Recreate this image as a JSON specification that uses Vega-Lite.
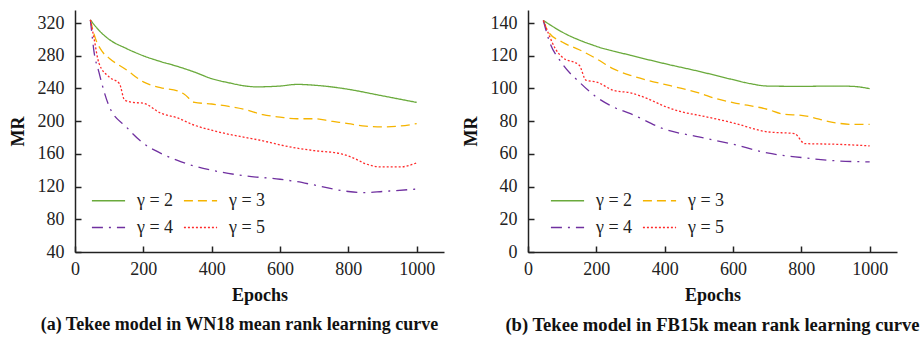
{
  "$schema": "https://vega.github.io/schema/vega-lite/v6.json",
  "padding": {"left": 9, "top": 10, "right": 5, "bottom": 5},
  "spacing": 84,
  "bounds": "flush",
  "config": {
    "font": "Liberation Serif",
    "view": {"stroke": null},
    "axis": {
      "labelFont": "Liberation Serif", "labelFontSize": 18, "labelColor": "#222",
      "titleFont": "Liberation Serif", "titleFontSize": 18, "titleFontWeight": "bold", "titleColor": "#111",
      "domainColor": "#222", "domainWidth": 1.5, "tickColor": "#222", "tickWidth": 1.5,
      "tickSize": -6, "grid": false
    },
    "legend": {
      "labelFont": "Liberation Serif", "labelFontSize": 18, "labelColor": "#222",
      "symbolType": "stroke", "symbolSize": 1100, "symbolStrokeWidth": 1.5,
      "columns": 2, "direction": "horizontal", "columnPadding": 6, "rowPadding": -5, "labelOffset": 11,
      "orient": "none", "title": null
    },
    "title": {"font": "Liberation Serif", "fontSize": 18, "fontWeight": "bold", "color": "#111", "orient": "bottom", "offset": 12, "frame": "group"}
  },
  "datasets": {
    "curves": [
      {"panel":"a","gamma":"γ = 2","epoch":45,"mr":324},{"panel":"a","gamma":"γ = 2","epoch":60,"mr":316},{"panel":"a","gamma":"γ = 2","epoch":80,"mr":307},{"panel":"a","gamma":"γ = 2","epoch":100,"mr":300},{"panel":"a","gamma":"γ = 2","epoch":150,"mr":289},{"panel":"a","gamma":"γ = 2","epoch":200,"mr":280},{"panel":"a","gamma":"γ = 2","epoch":250,"mr":273},{"panel":"a","gamma":"γ = 2","epoch":300,"mr":267},{"panel":"a","gamma":"γ = 2","epoch":350,"mr":260},{"panel":"a","gamma":"γ = 2","epoch":400,"mr":252},{"panel":"a","gamma":"γ = 2","epoch":450,"mr":247},{"panel":"a","gamma":"γ = 2","epoch":500,"mr":243},{"panel":"a","gamma":"γ = 2","epoch":530,"mr":242},{"panel":"a","gamma":"γ = 2","epoch":600,"mr":243},{"panel":"a","gamma":"γ = 2","epoch":650,"mr":245},{"panel":"a","gamma":"γ = 2","epoch":700,"mr":244},{"panel":"a","gamma":"γ = 2","epoch":750,"mr":242},{"panel":"a","gamma":"γ = 2","epoch":800,"mr":239},{"panel":"a","gamma":"γ = 2","epoch":900,"mr":231},{"panel":"a","gamma":"γ = 2","epoch":1000,"mr":223},
      {"panel":"a","gamma":"γ = 3","epoch":45,"mr":324},{"panel":"a","gamma":"γ = 3","epoch":60,"mr":301},{"panel":"a","gamma":"γ = 3","epoch":80,"mr":285},{"panel":"a","gamma":"γ = 3","epoch":100,"mr":277},{"panel":"a","gamma":"γ = 3","epoch":150,"mr":263},{"panel":"a","gamma":"γ = 3","epoch":200,"mr":248},{"panel":"a","gamma":"γ = 3","epoch":250,"mr":241},{"panel":"a","gamma":"γ = 3","epoch":300,"mr":237},{"panel":"a","gamma":"γ = 3","epoch":320,"mr":233},{"panel":"a","gamma":"γ = 3","epoch":350,"mr":223},{"panel":"a","gamma":"γ = 3","epoch":400,"mr":221},{"panel":"a","gamma":"γ = 3","epoch":450,"mr":218},{"panel":"a","gamma":"γ = 3","epoch":500,"mr":214},{"panel":"a","gamma":"γ = 3","epoch":550,"mr":208},{"panel":"a","gamma":"γ = 3","epoch":600,"mr":205},{"panel":"a","gamma":"γ = 3","epoch":650,"mr":203},{"panel":"a","gamma":"γ = 3","epoch":700,"mr":203},{"panel":"a","gamma":"γ = 3","epoch":750,"mr":200},{"panel":"a","gamma":"γ = 3","epoch":800,"mr":197},{"panel":"a","gamma":"γ = 3","epoch":850,"mr":194},{"panel":"a","gamma":"γ = 3","epoch":900,"mr":193},{"panel":"a","gamma":"γ = 3","epoch":950,"mr":194},{"panel":"a","gamma":"γ = 3","epoch":1000,"mr":197},
      {"panel":"a","gamma":"γ = 4","epoch":45,"mr":324},{"panel":"a","gamma":"γ = 4","epoch":50,"mr":305},{"panel":"a","gamma":"γ = 4","epoch":55,"mr":287},{"panel":"a","gamma":"γ = 4","epoch":70,"mr":260},{"panel":"a","gamma":"γ = 4","epoch":100,"mr":218},{"panel":"a","gamma":"γ = 4","epoch":150,"mr":193},{"panel":"a","gamma":"γ = 4","epoch":200,"mr":173},{"panel":"a","gamma":"γ = 4","epoch":250,"mr":161},{"panel":"a","gamma":"γ = 4","epoch":300,"mr":152},{"panel":"a","gamma":"γ = 4","epoch":350,"mr":145},{"panel":"a","gamma":"γ = 4","epoch":400,"mr":140},{"panel":"a","gamma":"γ = 4","epoch":500,"mr":133},{"panel":"a","gamma":"γ = 4","epoch":600,"mr":129},{"panel":"a","gamma":"γ = 4","epoch":650,"mr":126},{"panel":"a","gamma":"γ = 4","epoch":700,"mr":122},{"panel":"a","gamma":"γ = 4","epoch":800,"mr":114},{"panel":"a","gamma":"γ = 4","epoch":850,"mr":112.6},{"panel":"a","gamma":"γ = 4","epoch":900,"mr":114},{"panel":"a","gamma":"γ = 4","epoch":1000,"mr":117},
      {"panel":"a","gamma":"γ = 5","epoch":45,"mr":324},{"panel":"a","gamma":"γ = 5","epoch":55,"mr":303},{"panel":"a","gamma":"γ = 5","epoch":70,"mr":271},{"panel":"a","gamma":"γ = 5","epoch":100,"mr":254},{"panel":"a","gamma":"γ = 5","epoch":130,"mr":246},{"panel":"a","gamma":"γ = 5","epoch":145,"mr":226},{"panel":"a","gamma":"γ = 5","epoch":170,"mr":223},{"panel":"a","gamma":"γ = 5","epoch":200,"mr":222},{"panel":"a","gamma":"γ = 5","epoch":250,"mr":210},{"panel":"a","gamma":"γ = 5","epoch":300,"mr":204},{"panel":"a","gamma":"γ = 5","epoch":350,"mr":195},{"panel":"a","gamma":"γ = 5","epoch":400,"mr":189},{"panel":"a","gamma":"γ = 5","epoch":450,"mr":184},{"panel":"a","gamma":"γ = 5","epoch":500,"mr":180},{"panel":"a","gamma":"γ = 5","epoch":550,"mr":176},{"panel":"a","gamma":"γ = 5","epoch":600,"mr":171},{"panel":"a","gamma":"γ = 5","epoch":650,"mr":167},{"panel":"a","gamma":"γ = 5","epoch":700,"mr":164},{"panel":"a","gamma":"γ = 5","epoch":780,"mr":160},{"panel":"a","gamma":"γ = 5","epoch":820,"mr":154},{"panel":"a","gamma":"γ = 5","epoch":850,"mr":148},{"panel":"a","gamma":"γ = 5","epoch":900,"mr":144},{"panel":"a","gamma":"γ = 5","epoch":950,"mr":144},{"panel":"a","gamma":"γ = 5","epoch":1000,"mr":149},
      {"panel":"b","gamma":"γ = 2","epoch":45,"mr":141.6},{"panel":"b","gamma":"γ = 2","epoch":100,"mr":134.5},{"panel":"b","gamma":"γ = 2","epoch":200,"mr":125.8},{"panel":"b","gamma":"γ = 2","epoch":300,"mr":120.3},{"panel":"b","gamma":"γ = 2","epoch":400,"mr":115.2},{"panel":"b","gamma":"γ = 2","epoch":500,"mr":110.5},{"panel":"b","gamma":"γ = 2","epoch":600,"mr":105.4},{"panel":"b","gamma":"γ = 2","epoch":650,"mr":103},{"panel":"b","gamma":"γ = 2","epoch":700,"mr":101.5},{"panel":"b","gamma":"γ = 2","epoch":800,"mr":101.3},{"panel":"b","gamma":"γ = 2","epoch":900,"mr":101.5},{"panel":"b","gamma":"γ = 2","epoch":950,"mr":101.3},{"panel":"b","gamma":"γ = 2","epoch":1000,"mr":99.9},
      {"panel":"b","gamma":"γ = 3","epoch":45,"mr":141.6},{"panel":"b","gamma":"γ = 3","epoch":60,"mr":134.5},{"panel":"b","gamma":"γ = 3","epoch":100,"mr":128.4},{"panel":"b","gamma":"γ = 3","epoch":150,"mr":123.7},{"panel":"b","gamma":"γ = 3","epoch":200,"mr":118.2},{"panel":"b","gamma":"γ = 3","epoch":250,"mr":112},{"panel":"b","gamma":"γ = 3","epoch":300,"mr":108},{"panel":"b","gamma":"γ = 3","epoch":350,"mr":105},{"panel":"b","gamma":"γ = 3","epoch":400,"mr":102.5},{"panel":"b","gamma":"γ = 3","epoch":450,"mr":100},{"panel":"b","gamma":"γ = 3","epoch":500,"mr":97.3},{"panel":"b","gamma":"γ = 3","epoch":550,"mr":93.8},{"panel":"b","gamma":"γ = 3","epoch":600,"mr":91.4},{"panel":"b","gamma":"γ = 3","epoch":700,"mr":87.3},{"panel":"b","gamma":"γ = 3","epoch":750,"mr":84.2},{"panel":"b","gamma":"γ = 3","epoch":800,"mr":83.6},{"panel":"b","gamma":"γ = 3","epoch":900,"mr":79},{"panel":"b","gamma":"γ = 3","epoch":950,"mr":78},{"panel":"b","gamma":"γ = 3","epoch":1000,"mr":78.1},
      {"panel":"b","gamma":"γ = 4","epoch":45,"mr":141.6},{"panel":"b","gamma":"γ = 4","epoch":60,"mr":130.4},{"panel":"b","gamma":"γ = 4","epoch":100,"mr":115.2},{"panel":"b","gamma":"γ = 4","epoch":150,"mr":104},{"panel":"b","gamma":"γ = 4","epoch":200,"mr":94.8},{"panel":"b","gamma":"γ = 4","epoch":250,"mr":88.7},{"panel":"b","gamma":"γ = 4","epoch":300,"mr":84.6},{"panel":"b","gamma":"γ = 4","epoch":400,"mr":75.1},{"panel":"b","gamma":"γ = 4","epoch":500,"mr":70.4},{"panel":"b","gamma":"γ = 4","epoch":600,"mr":65.9},{"panel":"b","gamma":"γ = 4","epoch":700,"mr":60.6},{"panel":"b","gamma":"γ = 4","epoch":800,"mr":57.8},{"panel":"b","gamma":"γ = 4","epoch":900,"mr":55.8},{"panel":"b","gamma":"γ = 4","epoch":1000,"mr":55.1},
      {"panel":"b","gamma":"γ = 5","epoch":45,"mr":141.6},{"panel":"b","gamma":"γ = 5","epoch":60,"mr":133.5},{"panel":"b","gamma":"γ = 5","epoch":80,"mr":124.3},{"panel":"b","gamma":"γ = 5","epoch":100,"mr":119.2},{"panel":"b","gamma":"γ = 5","epoch":150,"mr":114.2},{"panel":"b","gamma":"γ = 5","epoch":170,"mr":105},{"panel":"b","gamma":"γ = 5","epoch":200,"mr":104},{"panel":"b","gamma":"γ = 5","epoch":250,"mr":98.9},{"panel":"b","gamma":"γ = 5","epoch":300,"mr":97.3},{"panel":"b","gamma":"γ = 5","epoch":350,"mr":93.8},{"panel":"b","gamma":"γ = 5","epoch":400,"mr":89.1},{"panel":"b","gamma":"γ = 5","epoch":450,"mr":85.7},{"panel":"b","gamma":"γ = 5","epoch":500,"mr":83.6},{"panel":"b","gamma":"γ = 5","epoch":600,"mr":79},{"panel":"b","gamma":"γ = 5","epoch":700,"mr":73.5},{"panel":"b","gamma":"γ = 5","epoch":780,"mr":72.4},{"panel":"b","gamma":"γ = 5","epoch":810,"mr":66.3},{"panel":"b","gamma":"γ = 5","epoch":900,"mr":65.9},{"panel":"b","gamma":"γ = 5","epoch":1000,"mr":64.9}
    ]
  },
  "hconcat": [
    {
      "width": 369, "height": 242,
      "title": {"text": "(a) Tekee model in WN18 mean rank learning curve", "dx": -20},
      "data": {"name": "curves"},
      "transform": [{"filter": "datum.panel === 'a'"}],
      "mark": {"type": "line", "interpolate": "monotone", "strokeWidth": 1.3, "clip": true},
      "encoding": {
        "x": {"field": "epoch", "type": "quantitative", "title": "Epochs",
              "scale": {"domain": [0, 1080], "nice": false},
              "axis": {"values": [0, 200, 400, 600, 800, 1000], "format": "d", "labelPadding": 14, "titlePadding": 8, "labelFlush": false}},
        "y": {"field": "mr", "type": "quantitative", "title": "MR",
              "scale": {"domain": [40, 336], "nice": false, "zero": false},
              "axis": {"values": [40, 80, 120, 160, 200, 240, 280, 320], "format": "d", "labelPadding": 17, "titlePadding": 10}},
        "color": {"field": "gamma", "type": "nominal",
                  "scale": {"domain": ["γ = 2", "γ = 3", "γ = 4", "γ = 5"], "range": ["#6aaa3c", "#f5b400", "#7030a0", "#ff2a2a"]},
                  "legend": {"legendX": 16, "legendY": 173}},
        "strokeDash": {"field": "gamma", "type": "nominal",
                  "scale": {"domain": ["γ = 2", "γ = 3", "γ = 4", "γ = 5"], "range": [[1, 0], [9, 5], [11, 6, 2, 6], [2, 2]]},
                  "legend": {"legendX": 16, "legendY": 173}}
      }
    },
    {
      "width": 369, "height": 242,
      "title": {"text": "(b) Tekee model in FB15k mean rank learning curve", "dx": 0, "fontSize": 18.6},
      "data": {"name": "curves"},
      "transform": [{"filter": "datum.panel === 'b'"}],
      "mark": {"type": "line", "interpolate": "monotone", "strokeWidth": 1.3, "clip": true},
      "encoding": {
        "x": {"field": "epoch", "type": "quantitative", "title": "Epochs",
              "scale": {"domain": [0, 1080], "nice": false},
              "axis": {"values": [0, 200, 400, 600, 800, 1000], "format": "d", "labelPadding": 14, "titlePadding": 8, "labelFlush": false}},
        "y": {"field": "mr", "type": "quantitative", "title": "MR",
              "scale": {"domain": [0, 148], "nice": false, "zero": false},
              "axis": {"values": [0, 20, 40, 60, 80, 100, 120, 140], "format": "d", "labelPadding": 17, "titlePadding": 10}},
        "color": {"field": "gamma", "type": "nominal",
                  "scale": {"domain": ["γ = 2", "γ = 3", "γ = 4", "γ = 5"], "range": ["#6aaa3c", "#f5b400", "#7030a0", "#ff2a2a"]},
                  "legend": {"legendX": 22, "legendY": 173}},
        "strokeDash": {"field": "gamma", "type": "nominal",
                  "scale": {"domain": ["γ = 2", "γ = 3", "γ = 4", "γ = 5"], "range": [[1, 0], [9, 5], [11, 6, 2, 6], [2, 2]]},
                  "legend": {"legendX": 22, "legendY": 173}}
      }
    }
  ],
  "resolve": {"scale": {"color": "independent", "strokeDash": "independent", "x": "independent", "y": "independent"}, "legend": {"color": "independent", "strokeDash": "independent"}}
}
